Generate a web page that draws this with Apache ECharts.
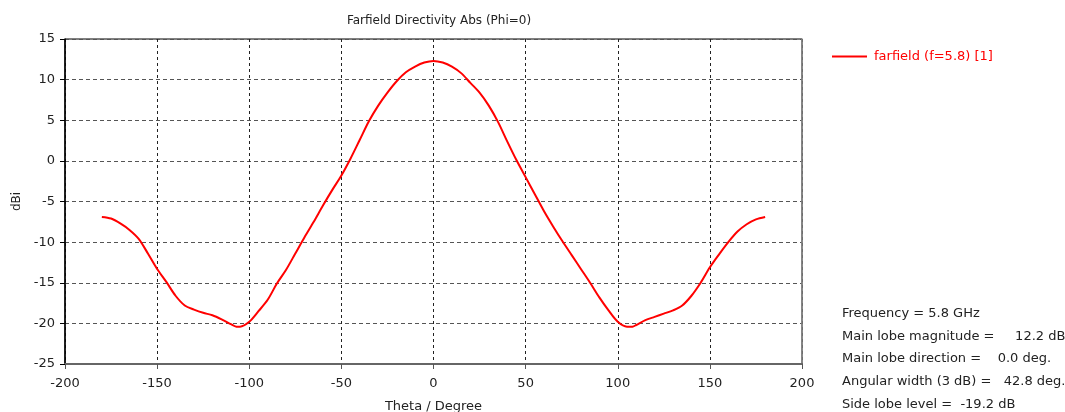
<!DOCTYPE html>
<html>
<head>
<meta charset="utf-8">
<script src="https://cdn.jsdelivr.net/npm/echarts@6/dist/echarts.min.js"></script>
<style>
html,body{margin:0;padding:0;background:#fff;}
#chart{width:1065px;height:412px;}
</style>
</head>
<body>
<div id="chart"></div>
<script>
const theta = [-180,-175,-170,-165,-160,-155,-150,-145,-140,-135,-130,-125,-120,-115,-110,-107,-105,-100,-95,-90,-85,-80,-75,-70,-65,-60,-55,-50,-45,-40,-35,-30,-25,-20,-15,-10,-5,0,5,10,15,20,25,30,35,40,45,50,55,60,65,70,75,80,85,90,95,100,105,108,110,115,120,125,130,135,140,145,150,155,160,165,170,175,180];
const dirValues = [-6.9,-7.1,-7.7,-8.5,-9.6,-11.4,-13.3,-14.9,-16.6,-17.8,-18.3,-18.7,-19.0,-19.5,-20.1,-20.4,-20.4,-19.8,-18.5,-17.1,-15.1,-13.4,-11.4,-9.4,-7.5,-5.5,-3.6,-1.8,0.3,2.6,4.9,6.8,8.4,9.8,10.9,11.6,12.1,12.3,12.1,11.6,10.8,9.6,8.4,6.8,4.8,2.4,0.1,-2.0,-4.1,-6.2,-8.1,-9.9,-11.6,-13.3,-15.0,-16.8,-18.4,-19.8,-20.4,-20.4,-20.2,-19.6,-19.2,-18.8,-18.4,-17.8,-16.6,-15.0,-13.1,-11.5,-10.0,-8.7,-7.8,-7.2,-6.9];
const seriesName = 'farfield (f=5.8) [1]';
const infoLines = [
  'Frequency = 5.8 GHz',
  'Main lobe magnitude =     12.2 dBi',
  'Main lobe direction =    0.0 deg.',
  'Angular width (3 dB) =   42.8 deg.',
  'Side lobe level =  -19.2 dB'
];

const FONT = "Tahoma, 'DejaVu Sans', sans-serif";
const chart = echarts.init(document.getElementById('chart'), null, {renderer:'canvas'});
const data = theta.map((t,i)=>[t, dirValues[i]]);

chart.setOption({
  backgroundColor:'#fff',
  animation:false,
  title:{
    text:'Farfield Directivity Abs (Phi=0)',
    left:434, top:10, textAlign:'center',
    textStyle:{fontFamily:FONT, fontSize:12, fontWeight:'normal', color:'#222'}
  },
  legend:{
    left:827, top:45,
    icon:'rect', itemWidth:35, itemHeight:2, itemGap:10,
    textStyle:{fontFamily:FONT, fontSize:13, color:'#ff0000', padding:[0,0,0,2]},
    data:[seriesName]
  },
  grid:{left:65, right:263, top:39, bottom:48, show:true, borderColor:'#000', borderWidth:1,
        containLabel:false, outerBoundsMode:'none'},
  xAxis:{
    type:'value', min:-200, max:200, interval:50,
    name:'Theta / Degree', nameLocation:'middle', nameGap:36,
    nameTextStyle:{fontFamily:FONT, fontSize:13, color:'#222'},
    axisLine:{show:true, onZero:false, lineStyle:{color:'#666', width:2}},
    axisTick:{show:true, length:5, lineStyle:{color:'#555'}},
    axisLabel:{fontFamily:FONT, fontSize:13, color:'#222', margin:13},
    splitLine:{show:true, lineStyle:{color:'#222', type:[3,3], width:1}}
  },
  yAxis:[{
    type:'value', min:-25, max:15, interval:5,
    name:'dBi', nameLocation:'middle', nameGap:40, nameRotate:90,
    nameTextStyle:{fontFamily:FONT, fontSize:12, color:'#222'},
    axisLine:{show:true, onZero:false, lineStyle:{color:'#000', width:1.5}},
    axisTick:{show:true, length:5, lineStyle:{color:'#000'}},
    axisLabel:{fontFamily:FONT, fontSize:13, color:'#222', margin:10},
    splitLine:{show:true, lineStyle:{color:'#555', type:[4,3], width:1}}
  },{
    type:'value', min:-25, max:15, position:'right',
    axisLine:{show:true, onZero:false, lineStyle:{color:'#888', width:1.5}},
    axisTick:{show:false}, axisLabel:{show:false}, splitLine:{show:false}
  }],
  graphic: infoLines.map((s,i)=>({
    type:'text', left:842, top:307 + i*22.7,
    style:{text:s, fontFamily:FONT, fontSize:13, fill:'#222'}
  })),
  series:[{
    name:seriesName, type:'line', data:data, yAxisIndex:0,
    showSymbol:false, smooth:0.3,
    lineStyle:{color:'#ff0000', width:2},
    itemStyle:{color:'#ff0000'}
  }]
});
</script>
</body>
</html>
